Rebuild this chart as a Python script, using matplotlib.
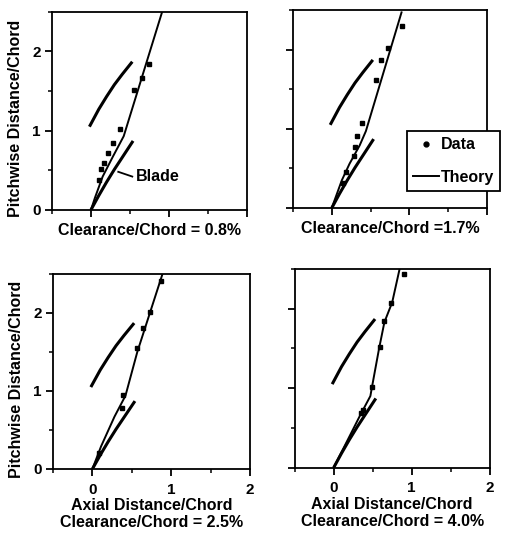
import matplotlib
matplotlib.use('Agg')
import matplotlib.pyplot as plt
import numpy as np
from matplotlib.lines import Line2D
from matplotlib.ticker import MultipleLocator

plt.rcParams['font.family'] = ['Liberation Sans', 'DejaVu Sans']
plt.rcParams['font.weight'] = 'bold'
plt.rcParams['font.size'] = 11.5

# blade (same shape in every panel)
blade_lo_x = [0.0, 0.1, 0.2, 0.3, 0.4, 0.54]
blade_lo_y = [0.0, 0.18, 0.35, 0.51, 0.66, 0.87]
blade_up_x = [-0.02, 0.1, 0.2, 0.3, 0.4, 0.53]
blade_up_y = [1.05, 1.27, 1.43, 1.58, 1.71, 1.87]

# clearance 0.8%
th1_x = [0.0, 0.05, 0.15, 0.28, 0.42, 0.91]
th1_y = [0.0, 0.15, 0.42, 0.67, 0.93, 2.49]
d1_x = [0.75, 0.66, 0.55, 0.37, 0.28, 0.22, 0.17, 0.13, 0.10]
d1_y = [1.84, 1.67, 1.51, 1.02, 0.85, 0.72, 0.59, 0.51, 0.38]

# clearance 1.7%
th2_x = [0.0, 0.13, 0.23, 0.36, 0.44, 0.90]
th2_y = [0.0, 0.35, 0.56, 0.79, 0.97, 2.47]
d2_x = [0.91, 0.73, 0.64, 0.57, 0.39, 0.33, 0.30, 0.29, 0.19, 0.14]
d2_y = [2.30, 2.02, 1.87, 1.62, 1.07, 0.91, 0.77, 0.66, 0.45, 0.32]

# clearance 2.5%
th3_x = [0.0, 0.11, 0.28, 0.42, 0.57, 0.73, 0.89]
th3_y = [0.0, 0.29, 0.67, 0.94, 1.50, 2.00, 2.50]
d3_x = [0.87, 0.73, 0.64, 0.57, 0.39, 0.37, 0.08]
d3_y = [2.41, 2.01, 1.81, 1.55, 0.95, 0.78, 0.21]

# clearance 4.0%
th4_x = [0.0, 0.17, 0.34, 0.47, 0.49, 0.58, 0.65, 0.75, 0.845]
th4_y = [0.0, 0.33, 0.66, 0.90, 1.01, 1.49, 1.83, 2.08, 2.50]
d4_x = [0.90, 0.74, 0.64, 0.59, 0.49, 0.35, 0.37]
d4_y = [2.44, 2.07, 1.84, 1.52, 1.02, 0.69, 0.72]

fig = plt.figure(figsize=(5.1, 5.38), dpi=100)

positions = [[0.102, 0.610, 0.382, 0.368],
             [0.5745, 0.6134, 0.380, 0.368],
             [0.104, 0.1283, 0.386, 0.3625],
             [0.578, 0.131, 0.382, 0.369]]
theory = [(th1_x, th1_y), (th2_x, th2_y), (th3_x, th3_y), (th4_x, th4_y)]
data = [(d1_x, d1_y), (d2_x, d2_y), (d3_x, d3_y), (d4_x, d4_y)]
labels = ['Clearance/Chord = 0.8%', 'Clearance/Chord =1.7%',
          'Axial Distance/Chord\nClearance/Chord = 2.5%',
          'Axial Distance/Chord\nClearance/Chord = 4.0%']

axes = []
for i in range(4):
    ax = fig.add_axes(positions[i])
    ax.plot(blade_lo_x, blade_lo_y, color='black', lw=2.2, solid_capstyle='butt')
    ax.plot(blade_up_x, blade_up_y, color='black', lw=2.2, solid_capstyle='butt')
    ax.plot(theory[i][0], theory[i][1], color='black', lw=1.4)
    ax.plot(data[i][0], data[i][1], 's', color='black', markersize=3.5)

    ax.set_xlim(-0.5, 2)
    ax.set_ylim(0, 2.5)
    ax.xaxis.set_major_locator(MultipleLocator(1))
    ax.xaxis.set_minor_locator(MultipleLocator(0.5))
    ax.yaxis.set_major_locator(MultipleLocator(1))
    ax.yaxis.set_minor_locator(MultipleLocator(0.5))
    ax.tick_params(which='major', direction='out', length=5, width=1.3, pad=3, labelsize=11)
    ax.tick_params(axis='x', which='major', pad=5)
    ax.tick_params(which='minor', direction='out', length=3, width=1.1)
    for s in ax.spines.values():
        s.set_linewidth(1.3)

    if i < 2:
        ax.tick_params(axis='x', labelbottom=False)
        ax.set_xlabel(labels[i], fontsize=11.5, fontweight='bold', labelpad=3)
    else:
        ax.set_xlabel(labels[i], fontsize=11.5, fontweight='bold', labelpad=1, linespacing=1.15)
    if i % 2 == 1:
        ax.tick_params(axis='y', labelleft=False)
    else:
        ax.set_ylabel('Pitchwise Distance/Chord', fontsize=11.5, fontweight='bold')
        ax.yaxis.set_label_coords(-0.15, 0.46)
    axes.append(ax)

# blade label
axes[0].plot([0.35, 0.53], [0.48, 0.42], color='black', lw=1.3)
axes[0].text(0.58, 0.42, 'Blade', ha='left', va='center', fontsize=11.5, fontweight='bold')

# legend
handles = [Line2D([], [], marker='o', color='black', ls='none', markersize=3.5),
           Line2D([], [], color='black', lw=1.4)]
leg = fig.legend(handles, ['Data', 'Theory'], loc='upper left', bbox_to_anchor=(0.798, 0.757),
                 frameon=True, fancybox=False, edgecolor='black', framealpha=1,
                 handlelength=1.6, handletextpad=0.1, labelspacing=1.1, borderpad=0.4,
                 borderaxespad=0, prop={'weight': 'bold', 'size': 11.5})
leg.get_frame().set_linewidth(1.3)

fig.savefig('out.png', dpi=100)
